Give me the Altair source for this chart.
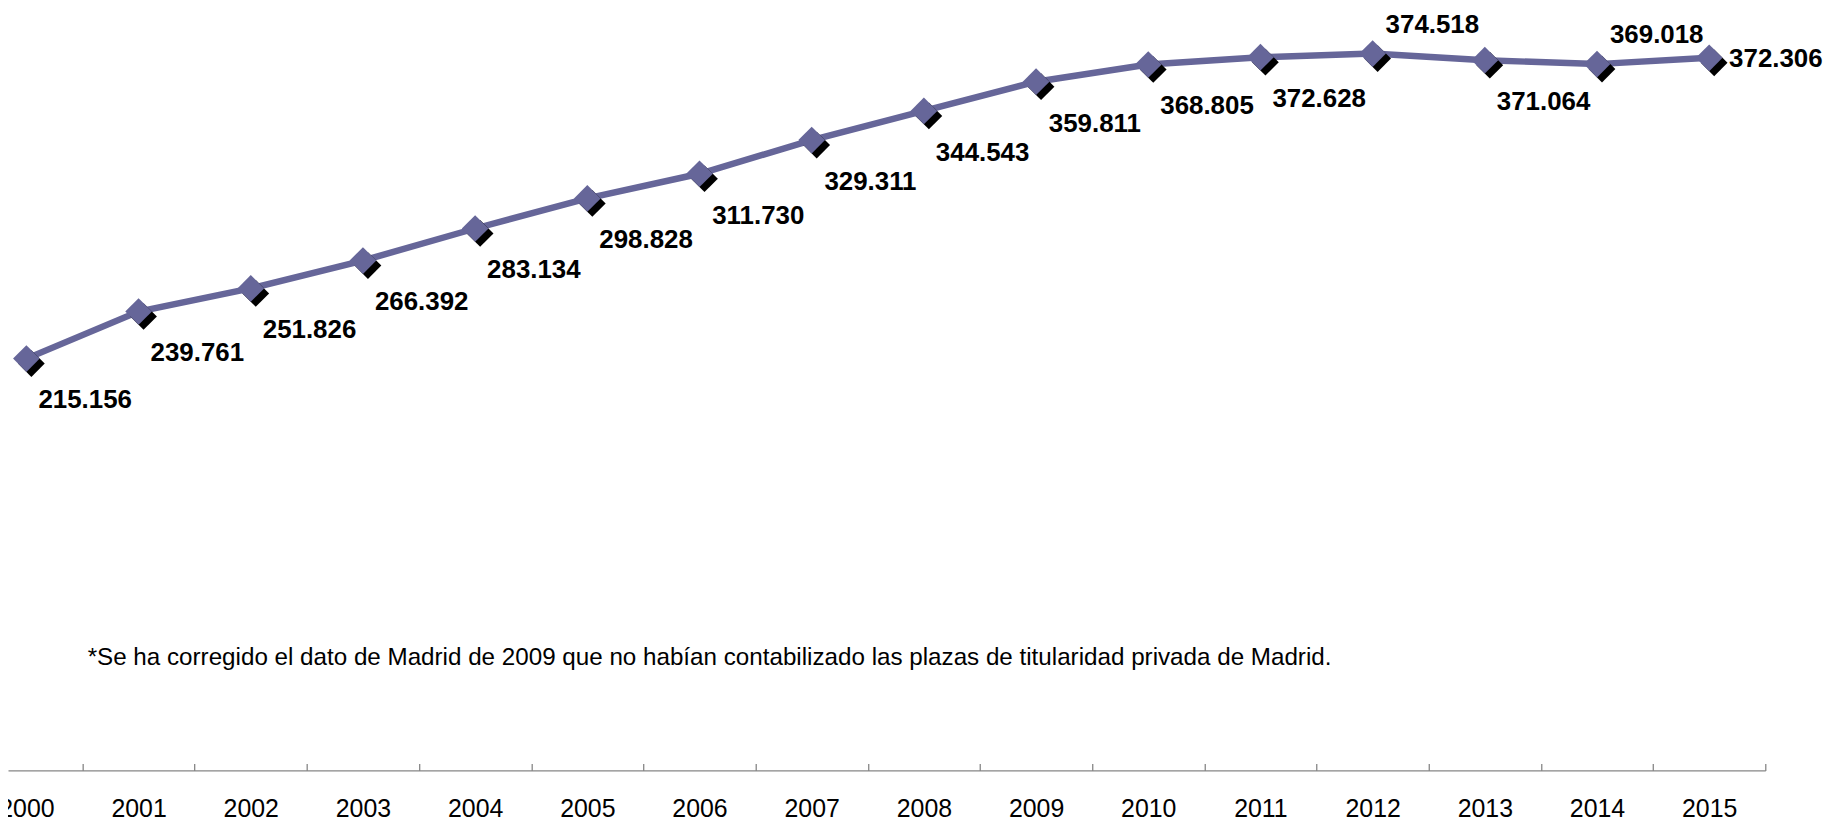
import altair as alt
import pandas as pd

# ---- data ----
YEARS = list(range(2000, 2016))
VALUES = [215156, 239761, 251826, 266392, 283134, 298828, 311730, 329311,
          344543, 359811, 368805, 372628, 374518, 371064, 369018, 372306]
ABOVE_YEARS = [2012, 2014]      # labels placed above the point
RIGHT_YEARS = [2015]            # label placed to the right of the point
TICK_YEARS = [y + 0.5 for y in YEARS]   # category boundaries (axis ticks)
FOOTNOTE = ("*Se ha corregido el dato de Madrid de 2009 que no habían "
            "contabilizado las plazas de titularidad privada de Madrid.")

def es_format(v):
    return f"{v:,}".replace(",", ".")

def placement(y):
    if y in ABOVE_YEARS:
        return "above"
    if y in RIGHT_YEARS:
        return "right"
    return "below"

df = pd.DataFrame({
    "year": YEARS,
    "value": VALUES,
    "label": [es_format(v) for v in VALUES],
    "place": [placement(y) for y in YEARS],
})

FONT = "Liberation Sans"
COLOR = "#666699"
W, H = 1765, 764

x_scale = alt.Scale(domain=[1999.836, 2015.5], nice=False, zero=False)
y_scale = alt.Scale(domain=[0, 397400], nice=False, zero=True)

label_axis = alt.Axis(values=YEARS, format="d", ticks=False, tickSize=0,
                      labelFontSize=25, labelFont=FONT, labelColor="#000000",
                      labelPadding=26, labelFlush=False, labelOverlap=False,
                      domainColor="#868686", domainWidth=1.3, grid=False,
                      title=None, orient="bottom")
tick_axis = alt.Axis(values=TICK_YEARS, labels=False, domain=False, ticks=True,
                     tickSize=7, offset=-7, tickColor="#868686", tickWidth=1.3,
                     grid=False, title=None, orient="bottom")

base = alt.Chart(df)

line = base.mark_line(color=COLOR, strokeWidth=6.5).encode(
    x=alt.X("year:Q", scale=x_scale, axis=label_axis),
    y=alt.Y("value:Q", scale=y_scale, axis=None),
)

shadow = base.mark_point(shape="diamond", filled=True, color="#000000",
                         size=720, opacity=1, xOffset=5, yOffset=5).encode(
    x=alt.X("year:Q", scale=x_scale, axis=tick_axis),
    y=alt.Y("value:Q", scale=y_scale, axis=None),
)

points = base.mark_point(shape="diamond", filled=True, color=COLOR,
                         size=720, opacity=1).encode(
    x=alt.X("year:Q", scale=x_scale, axis=None),
    y=alt.Y("value:Q", scale=y_scale, axis=None),
)

def labels(place, **kw):
    return base.transform_filter(alt.datum.place == place).mark_text(
        font=FONT, fontSize=26, fontWeight="bold", color="#000000", **kw
    ).encode(
        x=alt.X("year:Q", scale=x_scale, axis=None),
        y=alt.Y("value:Q", scale=y_scale, axis=None),
        text="label:N",
    )

lab_below = labels("below", align="center", baseline="middle", dx=59, dy=42)
lab_above = labels("above", align="center", baseline="middle", dx=60, dy=-29)
lab_right = labels("right", align="left", baseline="middle", dx=20, dy=1)

note = alt.Chart(pd.DataFrame({"t": [FOOTNOTE]})).mark_text(
    font=FONT, fontSize=24.3, color="#000000", align="left", baseline="alphabetic"
).encode(x=alt.value(80), y=alt.value(658), text="t:N")

chart = alt.layer(line, shadow, points, lab_below, lab_above, lab_right, note).resolve_axis(
    x="independent"
).properties(
    width=W, height=H,
    autosize=alt.AutoSizeParams(type="none"),
    padding={"left": 0, "top": 0, "right": 66, "bottom": 51},
).configure(background="#ffffff").configure_view(stroke="transparent", strokeWidth=0)

chart.save("out.html", embed_options={"renderer": "svg", "actions": False})
